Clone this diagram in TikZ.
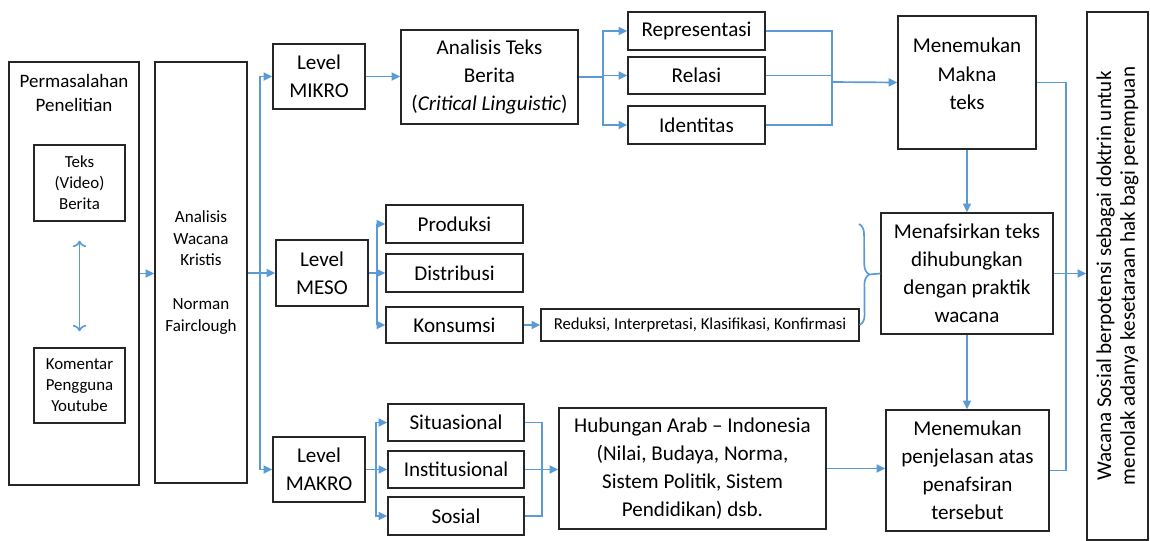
\documentclass[tikz,border=0pt]{standalone}
\usepackage{fontspec}
\setmainfont{Carlito}
\usepackage{tikz}
\usetikzlibrary{calc,arrows.meta,decorations.pathreplacing}
\definecolor{lineblue}{RGB}{91,155,213}

\begin{document}
\begin{tikzpicture}[x=0.02cm,y=-0.02cm,
  box/.style={draw=black!85, line width=0.75pt, align=center, inner sep=0pt, font=\fontsize{12}{16}\selectfont},
  sz/.style 2 args={minimum width=#1*0.02cm, minimum height=#2*0.02cm},
  link/.style={lineblue, line width=0.95pt},
  arr/.style={link, -{Triangle[length=5pt,width=4.6pt]}}]% [scale=0.8]
\useasboundingbox (0,0) rectangle (1150,541);

% kiri
\node[box, sz={130}{423}] (perm) at (74,273.5) {};
\node[align=center, font=\fontsize{10.8}{14}\selectfont] (permtxt) at (74,93) {Permasalahan\\Penelitian};
\node[box, sz={91}{76}, font=\fontsize{9.6}{12}\selectfont] (teks) at (79.5,183) {Teks\\(Video)\\Berita};
\node[box, sz={91}{75}, font=\fontsize{9.6}{12}\selectfont] (komen) at (79.5,385.5) {Komentar\\Pengguna\\Youtube};
\node[box, sz={92}{421}, font=\fontsize{9.7}{12.5}\selectfont] (awk) at (201,272.5) {Analisis\\Wacana\\Kristis\\[12.5pt]Norman\\Fairclough};

% level
\node[box, sz={92}{65}] (mikro) at (319,76.5) {Level\\MIKRO};
\node[box, sz={92}{66}] (meso) at (322,273) {Level\\MESO};
\node[box, sz={92}{65}] (makro) at (319,469.5) {Level\\MAKRO};

% mikro
\node[box, sz={177}{94}] (ateks) at (489.5,77) {Analisis Teks\\Berita\\(\textit{Critical Linguistic})};
\node[box, sz={137}{38}] (repr) at (696.5,31) {Representasi};
\node[box, sz={137}{37}] (rela) at (696.5,75.5) {Relasi};
\node[box, sz={137}{38}] (iden) at (696.5,125) {Identitas};
\node[box, sz={138}{133}, text depth=10pt] (makna) at (967,82.5) {Menemukan\\Makna\\teks};

% meso
\node[box, sz={137}{38}] (prod) at (454.5,224) {Produksi};
\node[box, sz={137}{38}] (dist) at (454.5,273) {Distribusi};
\node[box, sz={137}{36}] (kons) at (454.5,325) {Konsumsi};
\node[box, sz={318}{32}, font=\fontsize{9.5}{12}\selectfont] (redu) at (700,325) {Reduksi, Interpretasi, Klasifikasi, Konfirmasi};
\node[box, sz={172}{121}] (menaf) at (967,273.5) {Menafsirkan teks\\dihubungkan\\dengan praktik\\wacana};

% makro
\node[box, sz={136}{37}] (situ) at (456,422.5) {Situasional};
\node[box, sz={136}{37}] (inst) at (456,469.5) {Institusional};
\node[box, sz={136}{38}] (sosi) at (456,516) {Sosial};
\node[box, sz={267}{121}] (hubu) at (692.5,468.5) {Hubungan Arab -- Indonesia\\(Nilai, Budaya, Norma,\\Sistem Politik, Sistem\\Pendidikan) dsb.};
\node[box, sz={163}{121}] (penj) at (967.5,470.5) {Menemukan\\penjelasan atas\\penafsiran\\tersebut};

% kanan
\node[box, sz={61}{528}] (wacana) at (1117.5,276) {};
\node[rotate=90, align=center, font=\fontsize{12}{13.5}\selectfont] (wacanatxt) at (wacana.center) {Wacana Sosial berpotensi sebagai doktrin untuk\\menolak adanya kesetaraan hak bagi perempuan};

\coordinate (trunk) at (260,273);
\coordinate (fk1) at (603,77);
\coordinate (mg1) at (832,82);
\coordinate (fk2) at (377,273);
\coordinate (fk3) at (376,469.5);
\coordinate (mg2) at (542,469.5);
\coordinate (rgt) at (1066,273);
\coordinate (brtop) at (859,224);

\draw[arr, <->, shorten <=0.38cm, shorten >=0.32cm] (teks) -- (komen);
\draw[arr] (perm.east) -- (perm.east -| awk.west);
\draw[arr] (awk.east |- meso.west) -- (meso.west);
\draw[arr] (trunk) |- (mikro.west);
\draw[arr] (trunk) |- (makro.west);

\draw[arr] (mikro.east) -- (mikro.east -| ateks.west);
\draw[link] (ateks.east) -- (fk1);
\draw[arr] (fk1) |- (repr.west);
\draw[arr] (fk1) |- (rela.west);
\draw[arr] (fk1) |- (iden.west);
\draw[link] (repr.east) -| (mg1);
\draw[link] (iden.east) -| (mg1);
\draw[link] (rela.east) -- (rela.east -| mg1);
\draw[arr] (mg1) -- (makna.west);

\draw[link] (meso.east) -- (fk2);
\draw[arr] (fk2) |- (prod.west);
\draw[arr] (fk2) |- (dist.west);
\draw[arr] (fk2) |- (kons.west);
\draw[arr] (kons.east) -- (redu.west);
\draw[link, decorate, decoration={brace, amplitude=0.2cm}] (brtop) -- (redu.east);
\draw[link] ($(brtop)!0.5!(redu.east)+(10,0)$) -- (menaf.west);

\draw[link] (makro.east) -- (fk3);
\draw[arr] (fk3) |- (situ.west);
\draw[arr] (fk3) -- (inst.west);
\draw[arr] (fk3) |- (sosi.west);
\draw[link] (situ.east) -| (mg2);
\draw[link] (sosi.east) -| (mg2);
\draw[arr] (inst.east) -- (inst.east -| hubu.west);
\draw[arr] (hubu.east) -- (hubu.east -| penj.west);

\draw[arr] (makna.south) -- (menaf.north);
\draw[arr] (menaf.south) -- (menaf.south |- penj.north);
\draw[link] (makna.east) -| (rgt) |- (penj.east);
\draw[arr] (menaf.east) -- (menaf.east -| wacana.west);
\end{tikzpicture}
\end{document}
